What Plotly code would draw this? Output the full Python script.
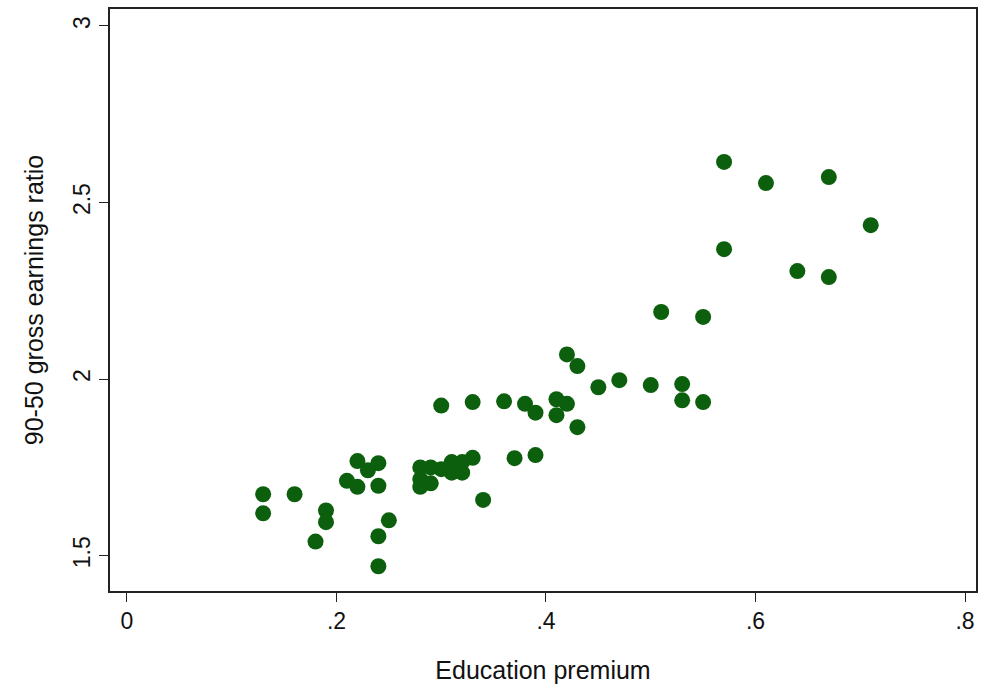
import plotly.graph_objects as go

edu_premium = [0.13, 0.13, 0.16, 0.18, 0.19, 0.19, 0.21, 0.22, 0.22, 0.23,
               0.24, 0.24, 0.24, 0.24, 0.25, 0.28, 0.28, 0.28, 0.29, 0.29,
               0.30, 0.31, 0.31, 0.32, 0.32, 0.33, 0.34, 0.30, 0.33, 0.36,
               0.37, 0.38, 0.39, 0.39, 0.41, 0.41, 0.42, 0.42, 0.43, 0.43,
               0.45, 0.47, 0.50, 0.51, 0.53, 0.53, 0.55, 0.55, 0.57, 0.57,
               0.61, 0.64, 0.67, 0.67, 0.71]
ratio_90_50 = [1.674, 1.620, 1.674, 1.540, 1.628, 1.595, 1.712, 1.768, 1.695, 1.742,
               1.762, 1.698, 1.555, 1.470, 1.600, 1.750, 1.717, 1.695, 1.750, 1.705,
               1.745, 1.765, 1.735, 1.765, 1.735, 1.777, 1.658, 1.925, 1.935, 1.937,
               1.776, 1.930, 1.905, 1.785, 1.943, 1.898, 2.070, 1.930, 2.037, 1.864,
               1.977, 1.997, 1.983, 2.190, 1.986, 1.940, 2.176, 1.935, 2.615, 2.368,
               2.555, 2.306, 2.572, 2.289, 2.436]

x_ticks = [0, 0.2, 0.4, 0.6, 0.8]
x_tick_labels = ["0", ".2", ".4", ".6", ".8"]
y_ticks = [1.5, 2, 2.5, 3]
y_tick_labels = ["1.5", "2", "2.5", "3"]

fig = go.Figure(go.Scatter(
    x=edu_premium, y=ratio_90_50, mode="markers",
    marker=dict(size=16, color="#0c5f0c", line=dict(width=0)),
    showlegend=False,
))

font = "Liberation Sans, Arial, sans-serif"
fig.update_layout(
    width=981, height=695,
    margin=dict(l=110, r=3, t=9, b=104),
    paper_bgcolor="white", plot_bgcolor="white",
    font=dict(family=font, size=24, color="#111"),
)
fig.update_xaxes(
    range=[-0.0162, 0.8105], tickvals=x_ticks, ticktext=x_tick_labels,
    showgrid=False, zeroline=False, showline=True, mirror=True,
    linecolor="#222", linewidth=1.5, ticks="outside", ticklen=9, tickwidth=1.2,
    tickcolor="#222", tickfont=dict(size=23),
    title=dict(text="Education premium", font=dict(size=25), standoff=28),
)
fig.update_yaxes(
    range=[1.40, 3.048], tickvals=y_ticks, ticktext=y_tick_labels,
    showgrid=False, zeroline=False, showline=True, mirror=True,
    linecolor="#222", linewidth=1.5, ticks="outside", ticklen=9, tickwidth=1.2,
    tickcolor="#222", tickangle=-90, tickfont=dict(size=23),
    title=dict(text="90-50 gross earnings ratio", font=dict(size=25), standoff=18),
)

fig.write_html("out.html")
